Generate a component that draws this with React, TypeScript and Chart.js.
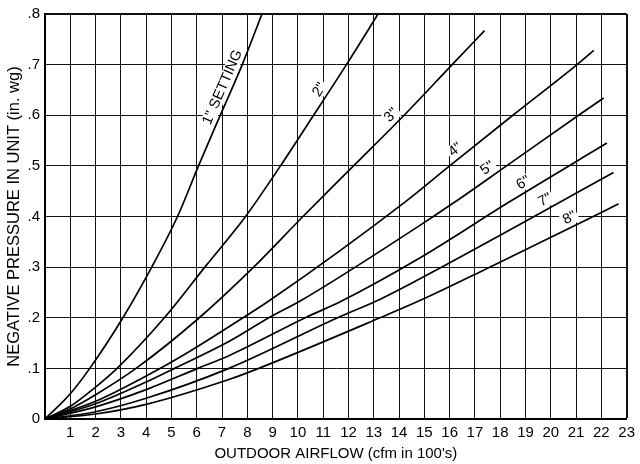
import React, { useEffect, useRef } from 'react';
import { Chart, registerables } from 'chart.js';

Chart.register(...registerables);

const xTickLabels = ['', '1', '2', '3', '4', '5', '6', '7', '8', '9', '10', '11', '12', '13', '14', '15', '16', '17', '18', '19', '20', '21', '22', '23'];
const yTickLabels = ['0', '.1', '.2', '.3', '.4', '.5', '.6', '.7', '.8'];

const settingNames = ['1" SETTING', '2"', '3"', '4"', '5"', '6"', '7"', '8"'];

const c1X = [0, 1, 1.77, 3.08, 4.22, 5.24, 6.07, 6.93, 7.8, 8.58];
const c1Y = [0, 0.05, 0.1, 0.2, 0.3, 0.4, 0.5, 0.6, 0.7, 0.8];

const c2X = [0, 1, 2, 2.85, 4.72, 6.32, 7.93, 9.31, 10.62, 11.92, 13.17];
const c2Y = [0, 0.025, 0.063, 0.1, 0.2, 0.3, 0.4, 0.5, 0.6, 0.7, 0.8];

const c3X = [0, 1, 2, 3.6, 6.1, 8.25, 10.2, 12.2, 14.2, 16.1, 17.38];
const c3Y = [0, 0.02, 0.048, 0.1, 0.2, 0.3, 0.4, 0.5, 0.6, 0.7, 0.767];

const c4X = [0, 2, 4, 5.5, 7.83, 8.85, 14.22, 16.0, 18.5, 21.04, 21.7];
const c4Y = [0, 0.035, 0.085, 0.127, 0.2, 0.233, 0.428, 0.5, 0.6, 0.7, 0.728];

const c5X = [0, 2, 4, 5.12, 7.27, 8.85, 10.09, 14.75, 16.19, 18.25, 21.1, 22.09];
const c5Y = [0, 0.03, 0.073, 0.1, 0.153, 0.2, 0.233, 0.38, 0.428, 0.5, 0.6, 0.634];

const c6X = [0, 2, 4, 6.04, 7.27, 10.29, 11.73, 14.75, 18.4, 22.22];
const c6Y = [0, 0.024, 0.058, 0.1, 0.125, 0.2, 0.233, 0.316, 0.43, 0.545];

const c7X = [0, 2, 4, 7.27, 11.57, 13.1, 14.75, 19.2, 22.48];
const c7Y = [0, 0.0144, 0.041, 0.1, 0.2, 0.233, 0.275, 0.396, 0.487];

const c8X = [0, 2, 4, 7.27, 8.45, 13.25, 15.0, 17.26, 21.52, 22.68];
const c8Y = [0, 0.0099, 0.029, 0.078, 0.1, 0.2, 0.238, 0.292, 0.396, 0.425];

const labelAnchorX = [7.35, 11.15, 13.95, 16.45, 17.7, 19.1, 19.95, 20.9];

const FONT = '"Liberation Sans", Arial, Helvetica, sans-serif';

export default function App() {
  const ref = useRef<HTMLCanvasElement>(null);

  useEffect(() => {
    if (!ref.current) return;
    Chart.defaults.font.family = FONT;
    Chart.defaults.color = '#000';

    const curves: [number[], number[]][] = [
      [c1X, c1Y], [c2X, c2Y], [c3X, c3Y], [c4X, c4Y],
      [c5X, c5Y], [c6X, c6Y], [c7X, c7Y], [c8X, c8Y],
    ];

    const datasets = curves.map(([xs, ys], i) => ({
      label: settingNames[i],
      data: xs.map((x, j) => ({ x, y: ys[j] })),
      borderColor: '#000',
      borderWidth: 1.7,
      pointRadius: 0,
      fill: false,
      cubicInterpolationMode: 'monotone' as const,
    }));

    const interp = (xs: number[], ys: number[], x: number) => {
      for (let j = 1; j < xs.length; j++) {
        if (x <= xs[j]) {
          const t = (x - xs[j - 1]) / (xs[j] - xs[j - 1]);
          return ys[j - 1] + t * (ys[j] - ys[j - 1]);
        }
      }
      return ys[ys.length - 1];
    };

    const labelPlugin = {
      id: 'curveLabels',
      afterDatasetsDraw(chart: any) {
        const ctx = chart.ctx as CanvasRenderingContext2D;
        const sx = chart.scales.x;
        const sy = chart.scales.y;
        const off = 9;
        settingNames.forEach((name, i) => {
          const [xs, ys] = curves[i];
          const ax = labelAnchorX[i];
          const pt = (x: number) => ({ x: sx.getPixelForValue(x), y: sy.getPixelForValue(interp(xs, ys, x)) });
          const p0 = pt(ax - 0.4);
          const p1 = pt(ax + 0.4);
          const pm = pt(ax);
          const a = Math.atan2(p1.y - p0.y, p1.x - p0.x);
          const nx = Math.sin(a);
          const ny = -Math.cos(a);
          ctx.save();
          ctx.translate(pm.x + nx * off, pm.y + ny * off);
          ctx.rotate(a);
          ctx.font = '14.5px ' + FONT;
          const w = ctx.measureText(name).width;
          ctx.fillStyle = '#fff';
          ctx.fillRect(-w / 2 - 2, -7, w + 4, 14);
          ctx.fillStyle = '#000';
          ctx.textAlign = 'center';
          ctx.textBaseline = 'middle';
          ctx.fillText(name, 0, 0);
          ctx.restore();
        });
      },
    };

    const chart = new Chart(ref.current, {
      type: 'line',
      data: { datasets: datasets as any },
      options: {
        responsive: false,
        animation: false,
        layout: { padding: { top: 10, right: 10, left: 0, bottom: 0 } },
        plugins: { legend: { display: false }, tooltip: { enabled: false } },
        scales: {
          x: {
            type: 'linear',
            min: 0,
            max: 23,
            afterFit: (s: any) => { s.height = 45; },
            ticks: {
              stepSize: 1,
              autoSkip: false,
              maxRotation: 0,
              padding: 5,
              color: '#000',
              font: { size: 15 },
              callback: (v: any) => xTickLabels[Math.round(Number(v))] ?? '',
            },
            grid: {
              color: '#111',
              lineWidth: (c: any) => (c.tick && Math.abs(c.tick.value - 23) < 1e-6 ? 2 : 1),
              drawTicks: false,
            },
            border: { display: true, color: '#000', width: 2 },
            title: {
              display: true,
              text: "OUTDOOR AIRFLOW (cfm in 100's)",
              color: '#000',
              font: { size: 15 },
              padding: { top: 1, bottom: 1 },
            },
          },
          y: {
            type: 'linear',
            min: 0,
            max: 0.8,
            afterFit: (s: any) => { s.width = 45; },
            ticks: {
              stepSize: 0.1,
              autoSkip: false,
              padding: 5,
              color: '#000',
              font: { size: 15 },
              callback: (v: any) => yTickLabels[Math.round(Number(v) * 10)] ?? '',
            },
            grid: {
              color: '#111',
              lineWidth: (c: any) => (c.tick && Math.abs(c.tick.value - 0.8) < 1e-6 ? 2 : 1),
              drawTicks: false,
            },
            border: { display: true, color: '#000', width: 2 },
            title: {
              display: true,
              text: 'NEGATIVE PRESSURE IN UNIT (in. wg)',
              color: '#000',
              font: { size: 16.5 },
              padding: { top: 5, bottom: 0 },
            },
          },
        },
      },
      plugins: [labelPlugin],
    });

    return () => chart.destroy();
  }, []);

  return (
    <div style={{ position: 'fixed', left: 0, top: 0, width: 640, height: 464, background: '#fff' }}>
      <canvas ref={ref} width={640} height={464} style={{ display: 'block', width: 640, height: 464 }} />
    </div>
  );
}
